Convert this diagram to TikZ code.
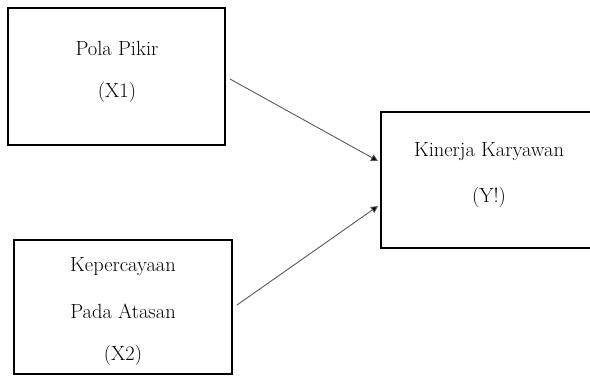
\documentclass[tikz,border=0pt]{standalone}
\usetikzlibrary{arrows.meta}
\begin{document}
\begin{tikzpicture}[x=1pt,y=-1pt,
  box/.style={draw=black,line width=2.8pt,fill=white},
  lbl/.style={font=\fontsize{20.5}{24}\selectfont,anchor=center,inner sep=0pt},
  conn/.style={draw=black!65,line width=0.9pt,-{Triangle[length=7pt,width=7pt,fill=black]}}]
\useasboundingbox[fill=white] (0,0) rectangle (590,376);
\draw[box] (8,8) rectangle (225,145);
\draw[box] (14,240) rectangle (232,374);
\draw[box] (381,112) rectangle (600,248);
\node[lbl] (p1) at (117,48) {Pola Pikir};
\node[lbl] (p2) at (117,92) {(X1)};
\node[lbl] (k1) at (123,267) {Kepercayaan};
\node[lbl] (k2) at (123,311) {Pada Atasan};
\node[lbl] (k3) at (123,355) {(X2)};
\node[lbl] (y1) at (489,152) {Kinerja Karyawan};
\node[lbl] (y2) at (489,197) {(Y!)};
\coordinate (a1s) at (230,79);
\coordinate (a1e) at (378,161);
\coordinate (a2s) at (237,305);
\coordinate (a2e) at (378,206);
\draw[conn] (a1s) -- (a1e);
\draw[conn] (a2s) -- (a2e);
\end{tikzpicture}
\end{document}
